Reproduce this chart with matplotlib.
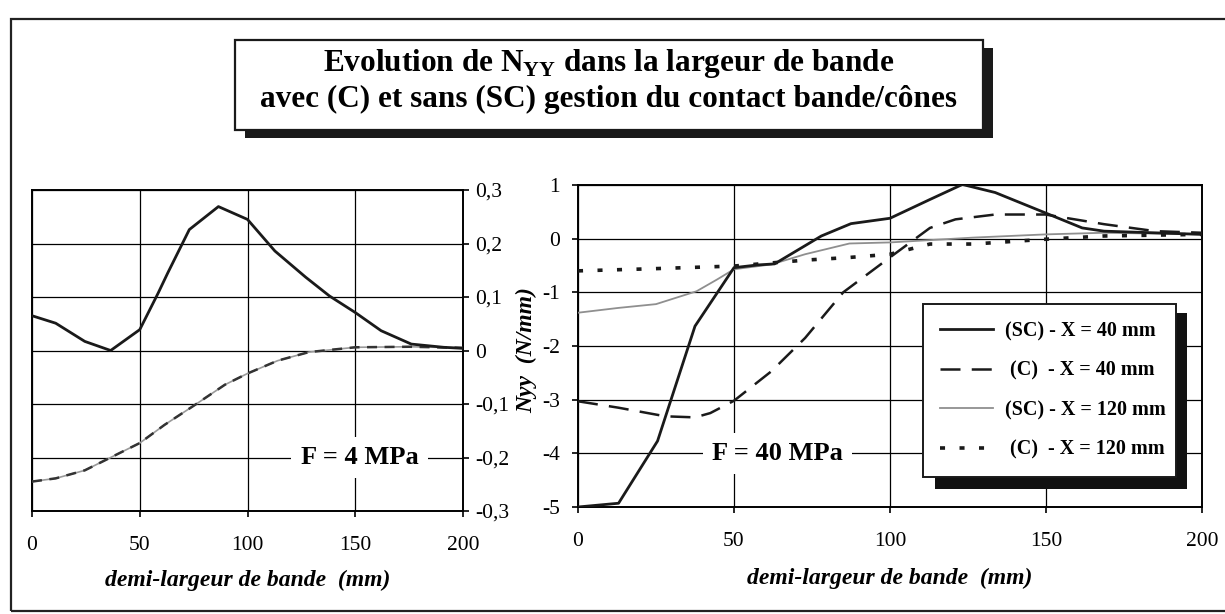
import matplotlib
matplotlib.use("Agg")
import matplotlib.pyplot as plt
from matplotlib.patches import Rectangle
from matplotlib.ticker import FuncFormatter

plt.rcParams["font.family"] = ["Liberation Serif", "DejaVu Serif"]
plt.rcParams["mathtext.fontset"] = "custom"
plt.rcParams["mathtext.rm"] = "Liberation Serif"
plt.rcParams["mathtext.bf"] = "Liberation Serif:bold"
plt.rcParams["axes.unicode_minus"] = False

# F = 4 MPa
x4_sc40 = [0, 11, 24.5, 36.5, 50, 58.5, 63, 73, 86.5, 100, 112.7, 127, 138, 150, 162, 176, 191, 200]
y4_sc40 = [0.065, 0.051, 0.017, 0.0, 0.039, 0.107, 0.145, 0.226, 0.269, 0.245, 0.186, 0.137,
           0.102, 0.071, 0.037, 0.012, 0.006, 0.004]
x4_c = [0, 11, 24.5, 37.5, 50, 61.5, 75.5, 89.5, 100, 114, 128.5, 150, 175, 200]
y4_c = [-0.245, -0.239, -0.224, -0.198, -0.173, -0.139, -0.102, -0.064, -0.043, -0.019,
        -0.003, 0.006, 0.007, 0.005]

# F = 40 MPa
x40_sc40 = [0, 13, 25.5, 37.5, 50, 57.5, 63, 78, 87.5, 100, 112.8, 123.2, 133.7, 149.8, 161.6, 168.6, 200]
y40_sc40 = [-5.0, -4.93, -3.77, -1.63, -0.54, -0.49, -0.47, 0.05, 0.28, 0.38, 0.73, 1.01,
            0.86, 0.48, 0.20, 0.14, 0.08]
x40_c40 = [0, 13, 28, 37.5, 42.4, 50, 62, 72.8, 85, 99.5, 108.6, 112.8, 121, 133.7, 149.8, 168.6, 185, 200]
y40_c40 = [-3.03, -3.15, -3.31, -3.33, -3.25, -3.02, -2.47, -1.85, -1.0, -0.37, 0.02, 0.2,
           0.36, 0.45, 0.45, 0.27, 0.14, 0.11]
x40_sc120 = [0, 13, 25, 38, 44.6, 50, 62, 72.8, 87, 100, 126.7, 150, 168.6, 200]
y40_sc120 = [-1.38, -1.29, -1.22, -0.98, -0.76, -0.57, -0.48, -0.29, -0.09, -0.07, 0.02,
             0.08, 0.11, 0.08]
x40_c120 = [0, 24, 50, 72.8, 87, 100, 112.8, 126.7, 150, 168.6, 200]
y40_c120 = [-0.60, -0.56, -0.51, -0.40, -0.35, -0.29, -0.10, -0.10, -0.01, 0.05, 0.08]

labels = ["(SC) - X = 40 mm", " (C)  - X = 40 mm", "(SC) - X = 120 mm", " (C)  - X = 120 mm"]

x_ticks = [0, 50, 100, 150, 200]
y4_ticks = [-0.3, -0.2, -0.1, 0, 0.1, 0.2, 0.3]
y40_ticks = [-5, -4, -3, -2, -1, 0, 1]

W, H = 1225, 614
fig = plt.figure(figsize=(W / 100, H / 100), dpi=100)


def px(x0, y0, x1, y1):
    return [x0 / W, 1 - y1 / H, (x1 - x0) / W, (y1 - y0) / H]


comma = FuncFormatter(lambda v, p: ("%g" % v).replace(".", ","))
label_font = dict(fontsize=17, fontweight="bold", style="italic")
tag_font = dict(fontsize=19, fontweight="bold")


def style_axes(ax):
    ax.set_xlim(0, 200)
    ax.set_xticks(x_ticks)
    ax.grid(True, color="black", lw=0.9)
    ax.set_axisbelow(True)
    for s in ax.spines.values():
        s.set_linewidth(1.4)
    ax.tick_params(direction="out", length=4, width=1.2, labelsize=15.5, pad=9)
    ax.tick_params(axis="x", pad=14)


# outer frame and title box
fig.patches.append(Rectangle((11 / W, 1 - 611 / H), 1240 / W, 592 / H, transform=fig.transFigure,
                             fill=False, lw=1.6, ec="#222222"))
fig.patches.append(Rectangle((245 / W, 1 - 138 / H), 748 / W, 90 / H, transform=fig.transFigure,
                             fc="#1a1a1a", ec="none"))
fig.patches.append(Rectangle((235 / W, 1 - 130 / H), 748 / W, 90 / H, transform=fig.transFigure,
                             fc="white", ec="#1a1a1a", lw=1.6))
fig.text(609 / W, 1 - 63 / H, r"Evolution de N$_{\mathbf{YY}}$ dans la largeur de bande",
         ha="center", va="center", fontsize=22.5, fontweight="bold")
fig.text(609 / W, 1 - 99 / H, "avec (C) et sans (SC) gestion du contact bande/cônes",
         ha="center", va="center", fontsize=22.5, fontweight="bold")

# left panel
ax1 = fig.add_axes(px(32, 190, 463, 511))
style_axes(ax1)
ax1.set_ylim(-0.3, 0.3)
ax1.set_yticks(y4_ticks)
ax1.yaxis.set_major_formatter(comma)
ax1.yaxis.tick_right()
ax1.tick_params(axis="y", pad=5)
ax1.plot(x4_c, y4_c, color="#9a9a9a", lw=1.2, zorder=3)
ax1.plot(x4_c, y4_c, color="#333333", lw=1.8, dashes=(4, 3), zorder=4)
ax1.plot(x4_sc40, y4_sc40, color="#1a1a1a", lw=2, zorder=5)
ax1.text(152, -0.2, "F = 4 MPa", ha="center", va="center",
         bbox=dict(boxstyle="square,pad=0.35", fc="white", ec="none"), zorder=6, **tag_font)
ax1.set_xlabel("demi-largeur de bande  (mm)", labelpad=11, **label_font)

# right panel
ax2 = fig.add_axes(px(578, 185, 1202, 507))
style_axes(ax2)
ax2.set_ylim(-5, 1)
ax2.set_yticks(y40_ticks)
l1, = ax2.plot(x40_sc40, y40_sc40, color="#1a1a1a", lw=2, zorder=5)
l2, = ax2.plot(x40_c40, y40_c40, color="#1a1a1a", lw=1.8, dashes=(8, 4.5), zorder=4)
l3, = ax2.plot(x40_sc120, y40_sc120, color="#8f8f8f", lw=1.3, zorder=3)
l4, = ax2.plot(x40_c120, y40_c120, color="#1a1a1a", lw=2.6, dashes=(1.4, 4), zorder=4)
ax2.text(64, -4.0, "F = 40 MPa", ha="center", va="center",
         bbox=dict(boxstyle="square,pad=0.35", fc="white", ec="none"), zorder=6, **tag_font)
ax2.set_xlabel("demi-largeur de bande  (mm)", labelpad=12, **label_font)
fig.text(527 / W, 1 - 350 / H, "Nyy  (N/mm)", rotation=90, ha="center", va="center", **label_font)

# legend with a hard black shadow
ax2.add_patch(Rectangle((0.572, 0.056), 0.404, 0.546, transform=ax2.transAxes,
                        fc="#111111", ec="none", zorder=9, clip_on=False))
leg = ax2.legend([l1, l2, l3, l4], labels, loc="upper left", bbox_to_anchor=(0.553, 0.087, 0.405, 0.543),
                 mode="expand", borderaxespad=0, fancybox=False, framealpha=1, edgecolor="#1a1a1a",
                 handlelength=2.6, handletextpad=0.6, labelspacing=0.97, borderpad=0.85,
                 prop={"family": "Liberation Serif", "weight": "bold", "size": 14.5})
leg.get_frame().set_linewidth(1.4)
leg.set_zorder(10)

fig.savefig("out.png", dpi=100, facecolor="white")
